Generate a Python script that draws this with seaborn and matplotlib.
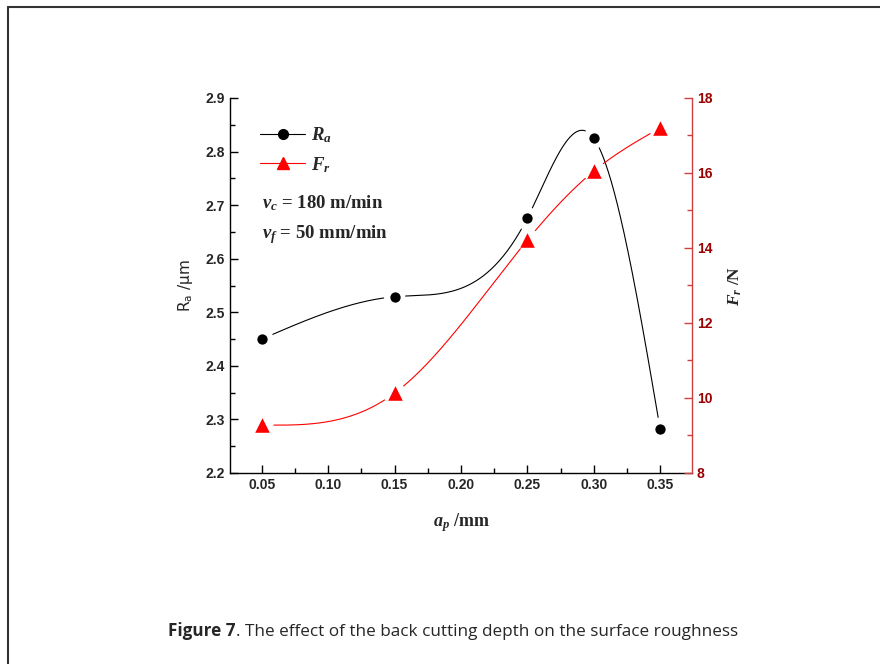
import numpy as np
import pandas as pd
import matplotlib
matplotlib.use("Agg")
import matplotlib.pyplot as plt
from matplotlib.lines import Line2D
from matplotlib.ticker import MultipleLocator, FormatStrFormatter
import seaborn as sns

# data
depth = [0.05, 0.15, 0.25, 0.30, 0.35]        # a_p /mm
ra = [2.450, 2.529, 2.676, 2.825, 2.282]       # R_a /um
fr = [9.28, 10.13, 14.21, 16.05, 17.20]        # F_r /N

sns.set_style("white")
plt.rcParams['font.family'] = ['Liberation Sans', 'DejaVu Sans']
plt.rcParams['mathtext.fontset'] = 'custom'
plt.rcParams['mathtext.it'] = 'Liberation Serif:italic:bold'
plt.rcParams['mathtext.rm'] = 'Liberation Serif:bold'
plt.rcParams['mathtext.sf'] = 'DejaVu Sans'

RED = '#ff0000'
AXRED = '#cc4040'
LBLRED = '#990000'
SERIF = dict(family='Liberation Serif', fontweight='bold')


def natural_spline(x, y, n=400):
    # natural cubic spline through the points, only used to draw the smooth line
    x = np.asarray(x, float)
    y = np.asarray(y, float)
    k = len(x)
    h = np.diff(x)
    A = np.zeros((k, k))
    b = np.zeros(k)
    A[0, 0] = A[-1, -1] = 1
    for i in range(1, k - 1):
        A[i, i - 1] = h[i - 1]
        A[i, i] = 2 * (h[i - 1] + h[i])
        A[i, i + 1] = h[i]
        b[i] = 6 * ((y[i + 1] - y[i]) / h[i] - (y[i] - y[i - 1]) / h[i - 1])
    m = np.linalg.solve(A, b)
    xs = np.linspace(x[0], x[-1], n)
    idx = np.clip(np.searchsorted(x, xs) - 1, 0, k - 2)
    x0, x1 = x[idx], x[idx + 1]
    hh = x1 - x0
    t0 = x1 - xs
    t1 = xs - x0
    ys = (m[idx] * t0 ** 3 / (6 * hh) + m[idx + 1] * t1 ** 3 / (6 * hh)
          + (y[idx] / hh - m[idx] * hh / 6) * t0
          + (y[idx + 1] / hh - m[idx + 1] * hh / 6) * t1)
    return xs, ys


def gap_near_markers(ax, xs, ys, px, py, gap=11):
    # Origin style: break the line around each marker
    pts = ax.transData.transform(np.column_stack([xs, ys]))
    mk = ax.transData.transform(np.column_stack([px, py]))
    ys = ys.copy()
    for p in mk:
        d = np.hypot(pts[:, 0] - p[0], pts[:, 1] - p[1])
        ys[d < gap] = np.nan
    return ys


fig = plt.figure(figsize=(8.8, 6.64), dpi=100)
ax = fig.add_axes([230 / 880, 1 - 473 / 664, 462 / 880, 375 / 664])
ax2 = ax.twinx()

ax.set_xlim(0.026, 0.374)
ax.set_ylim(2.2, 2.9)
ax2.set_ylim(8, 18)

df = pd.DataFrame({'depth': depth, 'ra': ra, 'fr': fr})

xs, ys = natural_spline(depth, ra)
ax.plot(xs, gap_near_markers(ax, xs, ys, depth, ra), color='black', lw=0.8)
sns.scatterplot(data=df, x='depth', y='ra', ax=ax, color='black', marker='o',
                s=55, edgecolor='black', linewidth=0, zorder=3)

xs2, ys2 = natural_spline(depth, fr)
ax2.plot(xs2, gap_near_markers(ax2, xs2, ys2, depth, fr), color=RED, lw=0.8)
sns.scatterplot(data=df, x='depth', y='fr', ax=ax2, color=RED, marker='^',
                s=110, edgecolor=RED, linewidth=0, zorder=3)

# axes styling
for a in (ax, ax2):
    a.spines['top'].set_visible(False)
ax.spines['right'].set_visible(False)
ax2.spines['left'].set_visible(False)
ax2.spines['bottom'].set_visible(False)
ax2.spines['right'].set_color(AXRED)
for s in ('left', 'bottom'):
    ax.spines[s].set_color('black')
    ax.spines[s].set_linewidth(1.0)
ax2.spines['right'].set_linewidth(1.0)

ax.xaxis.set_major_locator(MultipleLocator(0.05))
ax.xaxis.set_minor_locator(MultipleLocator(0.025))
ax.xaxis.set_major_formatter(FormatStrFormatter('%.2f'))
ax.yaxis.set_major_locator(MultipleLocator(0.1))
ax.yaxis.set_minor_locator(MultipleLocator(0.05))
ax.yaxis.set_major_formatter(FormatStrFormatter('%.1f'))
ax2.yaxis.set_major_locator(MultipleLocator(2))
ax2.yaxis.set_minor_locator(MultipleLocator(1))

ax.tick_params(which='both', direction='in', color='black', width=1.0,
               labelsize=10, bottom=True, left=True, top=False, right=False)
ax.tick_params(which='major', length=6)
ax.tick_params(which='minor', length=3.5)
ax2.tick_params(which='both', direction='in', color=AXRED, width=1.0,
                labelsize=10, labelcolor=LBLRED, right=True)
ax2.tick_params(which='major', length=6)
ax2.tick_params(which='minor', length=3.5)
for lab in ax.get_xticklabels() + ax.get_yticklabels() + ax2.get_yticklabels():
    lab.set_fontweight('bold')

ax.set_xlabel(r'$a_p$ /mm', fontsize=13, labelpad=14, **SERIF)
ax.set_ylabel(r'$\mathsf{R_a}$ /μm', fontsize=11, family='DejaVu Sans',
              labelpad=8)
ax2.set_ylabel(r'$F_r$ /N', fontsize=12.5, rotation=90, labelpad=10, **SERIF)

# legend and cutting conditions
handles = [
    Line2D([], [], color='black', lw=0.8, marker='o', markersize=7),
    Line2D([], [], color=RED, lw=0.8, marker='^', markersize=9),
]
leg = ax.legend(handles, [r'$R_a$', r'$F_r$'], loc='upper left',
                bbox_to_anchor=(0.065, 0.926), frameon=False, fontsize=13.5,
                handlelength=2.4, handletextpad=0.3, labelspacing=0.5,
                borderpad=0, borderaxespad=0)
ax.text(0.069, 0.72, r'$v_c$ = 180 m/min', transform=ax.transAxes,
        fontsize=13.5, va='center', ha='left', **SERIF)
ax.text(0.069, 0.635, r'$v_f$ = 50 mm/min', transform=ax.transAxes,
        fontsize=13.5, va='center', ha='left', **SERIF)

# caption
cap = fig.text(168 / 880, 1 - 636 / 664, 'Figure 7', fontsize=12.3,
               fontweight='bold', family='Open Sans', ha='left', va='baseline')
fig.canvas.draw()
ax.annotate('. The effect of the back cutting depth on the surface roughness',
            xy=(1, 0), xycoords=cap, fontsize=12.3, family='Open Sans',
            ha='left', va='bottom', annotation_clip=False)

# page frame (top and left edges)
fig.add_artist(Line2D([7.5 / 880, 1], [1 - 7 / 664, 1 - 7 / 664],
                      transform=fig.transFigure, color='#333333', lw=1.5))
fig.add_artist(Line2D([7.5 / 880, 7.5 / 880], [0, 1 - 7 / 664],
                      transform=fig.transFigure, color='#333333', lw=1.5))

fig.savefig('out.png', dpi=100)
